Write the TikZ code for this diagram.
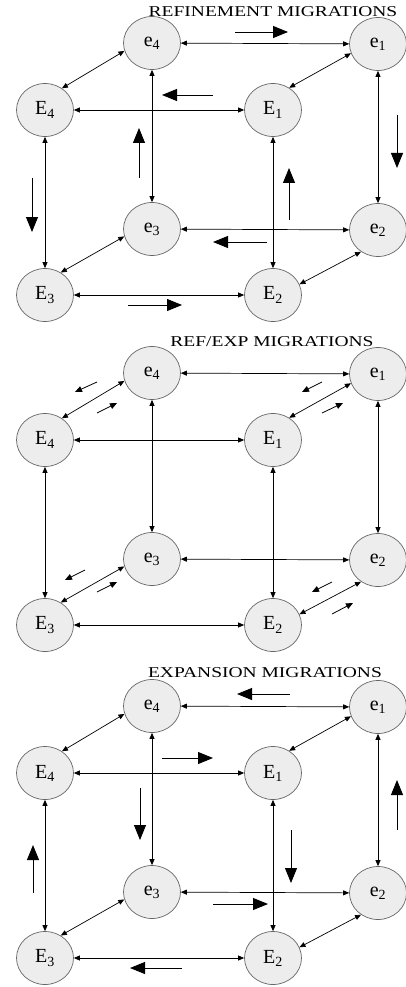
\documentclass[tikz,border=0pt]{standalone}
\usepackage{fontspec}
\setmainfont{Liberation Serif}
\usetikzlibrary{arrows.meta,shapes.geometric}
\tikzset{
  cell/.style={ellipse, draw=black!60, fill=black!7, line width=0.7pt,
    minimum width=57pt, minimum height=53pt, inner sep=0pt,
    font=\fontsize{20}{20}\selectfont},
  biarrow/.style={{Triangle[length=6pt,width=5pt]}-{Triangle[length=6pt,width=5pt]}, line width=0.7pt},
  migr/.style={-{Triangle[length=15pt,width=12pt]}, line width=0.9pt},
  smallmigr/.style={-{Triangle[length=7pt,width=6pt]}, line width=0.8pt},
  heading/.style={font=\fontsize{15}{15}\selectfont, inner sep=0pt}
}
% wide caps for the panel headings
\newcommand\widecaps[1]{\scalebox{1.3}[1]{#1}}
% one cube of eight states, node names prefixed by #1
\newcommand\drawcube[1]{%
  \node[cell] (#1e4) at (152,43)  {e\textsubscript{4}};
  \node[cell] (#1e1) at (378,44)  {e\textsubscript{1}};
  \node[cell] (#1E4) at (45,110)  {E\textsubscript{4}};
  \node[cell] (#1E1) at (273,110) {E\textsubscript{1}};
  \node[cell] (#1e3) at (152,229) {e\textsubscript{3}};
  \node[cell] (#1e2) at (378,230) {e\textsubscript{2}};
  \node[cell] (#1E3) at (45,295)  {E\textsubscript{3}};
  \node[cell] (#1E2) at (273,295) {E\textsubscript{2}};
  \draw[biarrow] (#1e4) -- (#1e1);
  \draw[biarrow] (#1E4) -- (#1E1);
  \draw[biarrow] (#1e3) -- (#1e2);
  \draw[biarrow] (#1E3) -- (#1E2);
  \draw[biarrow] (#1e4) -- (#1e3);
  \draw[biarrow] (#1E4) -- (#1E3);
  \draw[biarrow] (#1e1) -- (#1e2);
  \draw[biarrow] (#1E1) -- (#1E2);
  \draw[biarrow] (#1e4.196) -- (#1E4.52);
  \draw[biarrow] (#1e1.199) -- (#1E1.54);
  \draw[biarrow] (#1e3.195) -- (#1E3.55);
  \draw[biarrow] (#1e2.232) -- (#1E2.22);
}
\begin{document}
\begin{tikzpicture}[x=1pt,y=-1pt]
  \useasboundingbox (0,0) rectangle (405,987);
  \fill[white] (0,0) rectangle (405,987);

  % refinement
  \begin{scope}
    \drawcube{a}
  \end{scope}
  \node[heading] (t1) at (273,12) {\widecaps{REFINEMENT MIGRATIONS}};
  \draw[migr] (235,32) -- (288,32);
  \draw[migr] (213,95) -- (162,95);
  \draw[migr] (139,178) -- (139,128);
  \draw[migr] (397,115) -- (397,168);
  \draw[migr] (289,220) -- (289,168);
  \draw[migr] (267,242) -- (213,242);
  \draw[migr] (32,178) -- (32,232);
  \draw[migr] (128,305) -- (182,305);

  % refinement / expansion
  \begin{scope}[shift={(0,330)}]
    \drawcube{b}
  \end{scope}
  \node[heading] (t2) at (272,342) {\widecaps{REF/EXP MIGRATIONS}};
  \draw[smallmigr] (97,382) -- (75,392);
  \draw[smallmigr] (97,413) -- (117,403);
  \draw[smallmigr] (322,382) -- (302,392);
  \draw[smallmigr] (322,413) -- (343,403);
  \draw[smallmigr] (85,570) -- (65,580);
  \draw[smallmigr] (97,592) -- (117,582);
  \draw[smallmigr] (332,582) -- (312,592);
  \draw[smallmigr] (332,614) -- (353,603);

  % expansion
  \begin{scope}[shift={(0,663)}]
    \drawcube{c}
  \end{scope}
  \node[heading] (t3) at (265,673) {\widecaps{EXPANSION MIGRATIONS}};
  \draw[migr] (290,694) -- (237,694);
  \draw[migr] (162,758) -- (213,758);
  \draw[migr] (140,788) -- (140,840);
  \draw[migr] (397,830) -- (397,780);
  \draw[migr] (291,830) -- (291,883);
  \draw[migr] (213,904) -- (268,904);
  \draw[migr] (33,893) -- (33,845);
  \draw[migr] (182,968) -- (130,968);
\end{tikzpicture}
\end{document}
